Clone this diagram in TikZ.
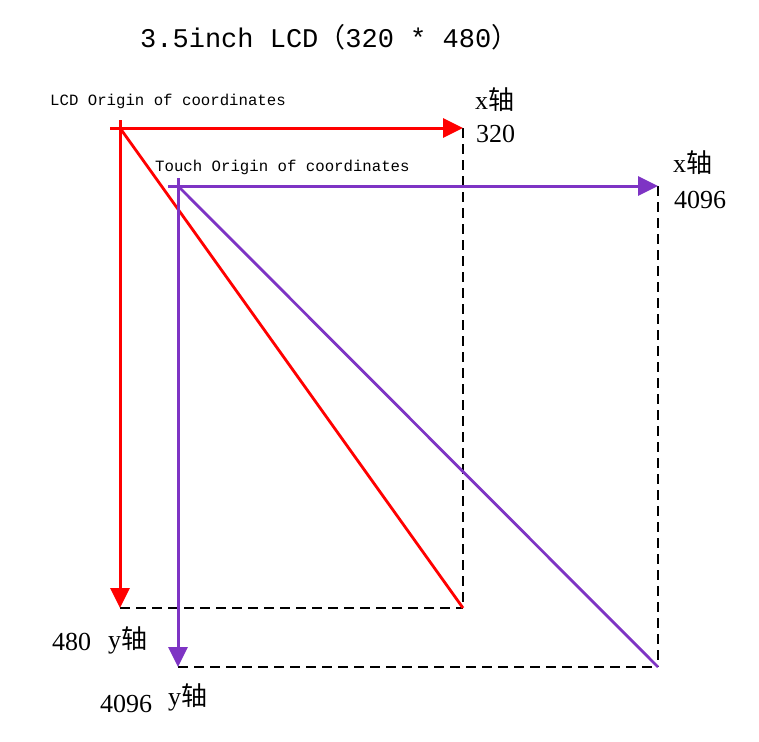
\documentclass[tikz,border=0pt]{standalone}
\usepackage{fontspec}
\setmainfont{Liberation Serif}
\setmonofont{Liberation Mono}
\newfontfamily\cjk{Noto Sans CJK SC}
\usetikzlibrary{arrows.meta}
\definecolor{lcdred}{RGB}{255,0,0}
\definecolor{tpurple}{RGB}{126,52,196}
\tikzset{
  axisline/.style={line width=3pt,-{Triangle[length=20pt,width=19pt]}},
  diag/.style={line width=2.8pt},
  guide/.style={line width=1.2pt,dash pattern=on 10pt off 6pt},
  monolabel/.style={anchor=base west,inner sep=0pt,font=\ttfamily\fontsize{15.7}{16}\selectfont},
  numlabel/.style={anchor=base west,inner sep=0pt,font=\fontsize{26}{28}\selectfont},
  titlelabel/.style={anchor=base west,inner sep=0pt,font=\ttfamily\fontsize{27}{28}\selectfont}
}
\begin{document}
\begin{tikzpicture}[x=1pt,y=-1pt]
\useasboundingbox (0,0) rectangle (759,741);
% coordinates
\coordinate (lo) at (120,128);
\coordinate (lxs) at (110,128);
\coordinate (lys) at (120,120);
\coordinate (lx) at (463,128);
\coordinate (ly) at (120,608);
\coordinate (lc) at (463,608);
\coordinate (to) at (178,186);
\coordinate (txs) at (168,186);
\coordinate (tys) at (178,178);
\coordinate (tx) at (658,186);
\coordinate (ty) at (178,667);
\coordinate (tc) at (658,667);
% title
\node[titlelabel] (title) at (140,48) {3.5inch LCD{\cjk （}320 * 480{\cjk ）}};
% dashed guides
\draw[guide] (lx) -- (lc);
\draw[guide] (ly) -- (lc);
\draw[guide] (tx) -- (tc);
\draw[guide] (ty) -- (tc);
% red LCD axes
\draw[axisline,lcdred] (lxs) -- (lx);
\draw[axisline,lcdred] (lys) -- (ly);
\draw[diag,lcdred] (lo) -- (lc);
% purple touch axes
\draw[axisline,tpurple] (txs) -- (tx);
\draw[axisline,tpurple] (tys) -- (ty);
\draw[diag,tpurple] (to) -- (tc);
% labels
\node[monolabel] (lcdlab) at (50,106) {LCD Origin of coordinates};
\node[monolabel] (tlab) at (155,171) {Touch Origin of coordinates};
\node[numlabel] (lxa) at (475,110) {x{\cjk 轴}};
\node[numlabel] (lxn) at (476,142) {320};
\node[numlabel] (txa) at (673,172) {x{\cjk 轴}};
\node[numlabel] (txn) at (674,208) {4096};
\node[numlabel] (lyn) at (52,650) {480};
\node[numlabel] (lya) at (108,648) {y{\cjk 轴}};
\node[numlabel] (tyn) at (100,712) {4096};
\node[numlabel] (tya) at (168,705) {y{\cjk 轴}};
\end{tikzpicture}
\end{document}
